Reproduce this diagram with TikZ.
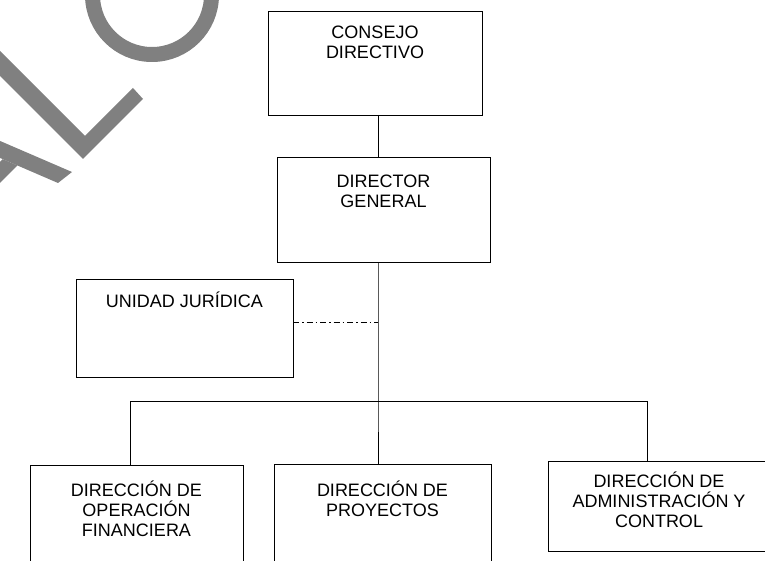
\documentclass[tikz,border=0pt]{standalone}
\usepackage{fontspec}
\setmainfont{Liberation Sans}
\usetikzlibrary{positioning}
\definecolor{marca}{RGB}{128,128,128}

\begin{document}
\begin{tikzpicture}[x=1pt, y=-1pt,
  caja/.style={draw, line width=0.9pt, inner sep=0, outer sep=0},
  rotulo/.style={align=center, inner sep=0, anchor=base,
    font=\fontsize{18}{20}\selectfont},
  linea/.style={line width=0.9pt},
  rayapunto/.style={line width=0.9pt, dash pattern=on 6pt off 3pt on 1.5pt off 3pt}]
 \useasboundingbox (0,0) rectangle (765,561);
 \clip (0,0) rectangle (765,561);

 % watermark letters
 \fill [marca] (72,172) -- (58,183) -- (-30,145) -- (-30,128) -- cycle;
 \fill [marca] (2.8,159.2) -- (17.5,165.5) -- (-30,213) -- (-30,192) -- cycle;
 \fill [marca] (-30,21) -- (85,136) -- (133,88) -- (143,99) -- (83,159) -- (-30,46) -- cycle;
 \draw [marca, line width=15pt] (152,-5) circle (59.5);

 % boxes
  \node [caja, minimum width=214, minimum height=104] (cd) at (375,63) {};
  \node [caja, minimum width=213, minimum height=105] (dg) at (383.5,209.5) {};
  \node [caja, minimum width=217, minimum height=98] (uj) at (184.5,328) {};
  \node [caja, minimum width=213, minimum height=135] (dof) at (136.5,532.5) {};
  \node [caja, minimum width=217, minimum height=136] (dp) at (382.5,532) {};
  \node [caja, minimum width=222, minimum height=90] (dac) at (659,506) {};

 % labels (base = last line)
  \node [rotulo] (tcd) at ([yshift=-48pt]cd.north) {CONSEJO\\DIRECTIVO};
  \node [rotulo] (tdg) at ([yshift=-51pt]dg.north) {DIRECTOR\\GENERAL};
  \node [rotulo] (tuj) at ([yshift=-28pt]uj.north) {UNIDAD JURÍDICA};
  \node [rotulo] (tdof) at ([yshift=-71pt]dof.north) {DIRECCIÓN DE\\OPERACIÓN\\FINANCIERA};
  \node [rotulo] (tdp) at ([yshift=-52pt]dp.north) {DIRECCIÓN DE\\PROYECTOS};
  \node [rotulo] (tdac) at ([yshift=-66pt]dac.north) {DIRECCIÓN DE\\ADMINISTRACIÓN Y\\CONTROL};

 % connectors
  \coordinate (eje) at (378,401);
  \coordinate (bi) at (130,401);
  \coordinate (bd) at (647,401);

\draw [linea] (cd.south -| eje) -- (dg.north -| eje);
\draw [linea] (dg.south -| eje) -- (eje) -- (dp.north -| eje);
\draw [linea] (dof.north -| bi) -- (bi) -- (bd) -- (dac.north -| bd);
\draw [rayapunto] ([yshift=6pt]uj.east) -- ([yshift=6pt]uj.east -| eje);

  \end{tikzpicture}
\end{document}
